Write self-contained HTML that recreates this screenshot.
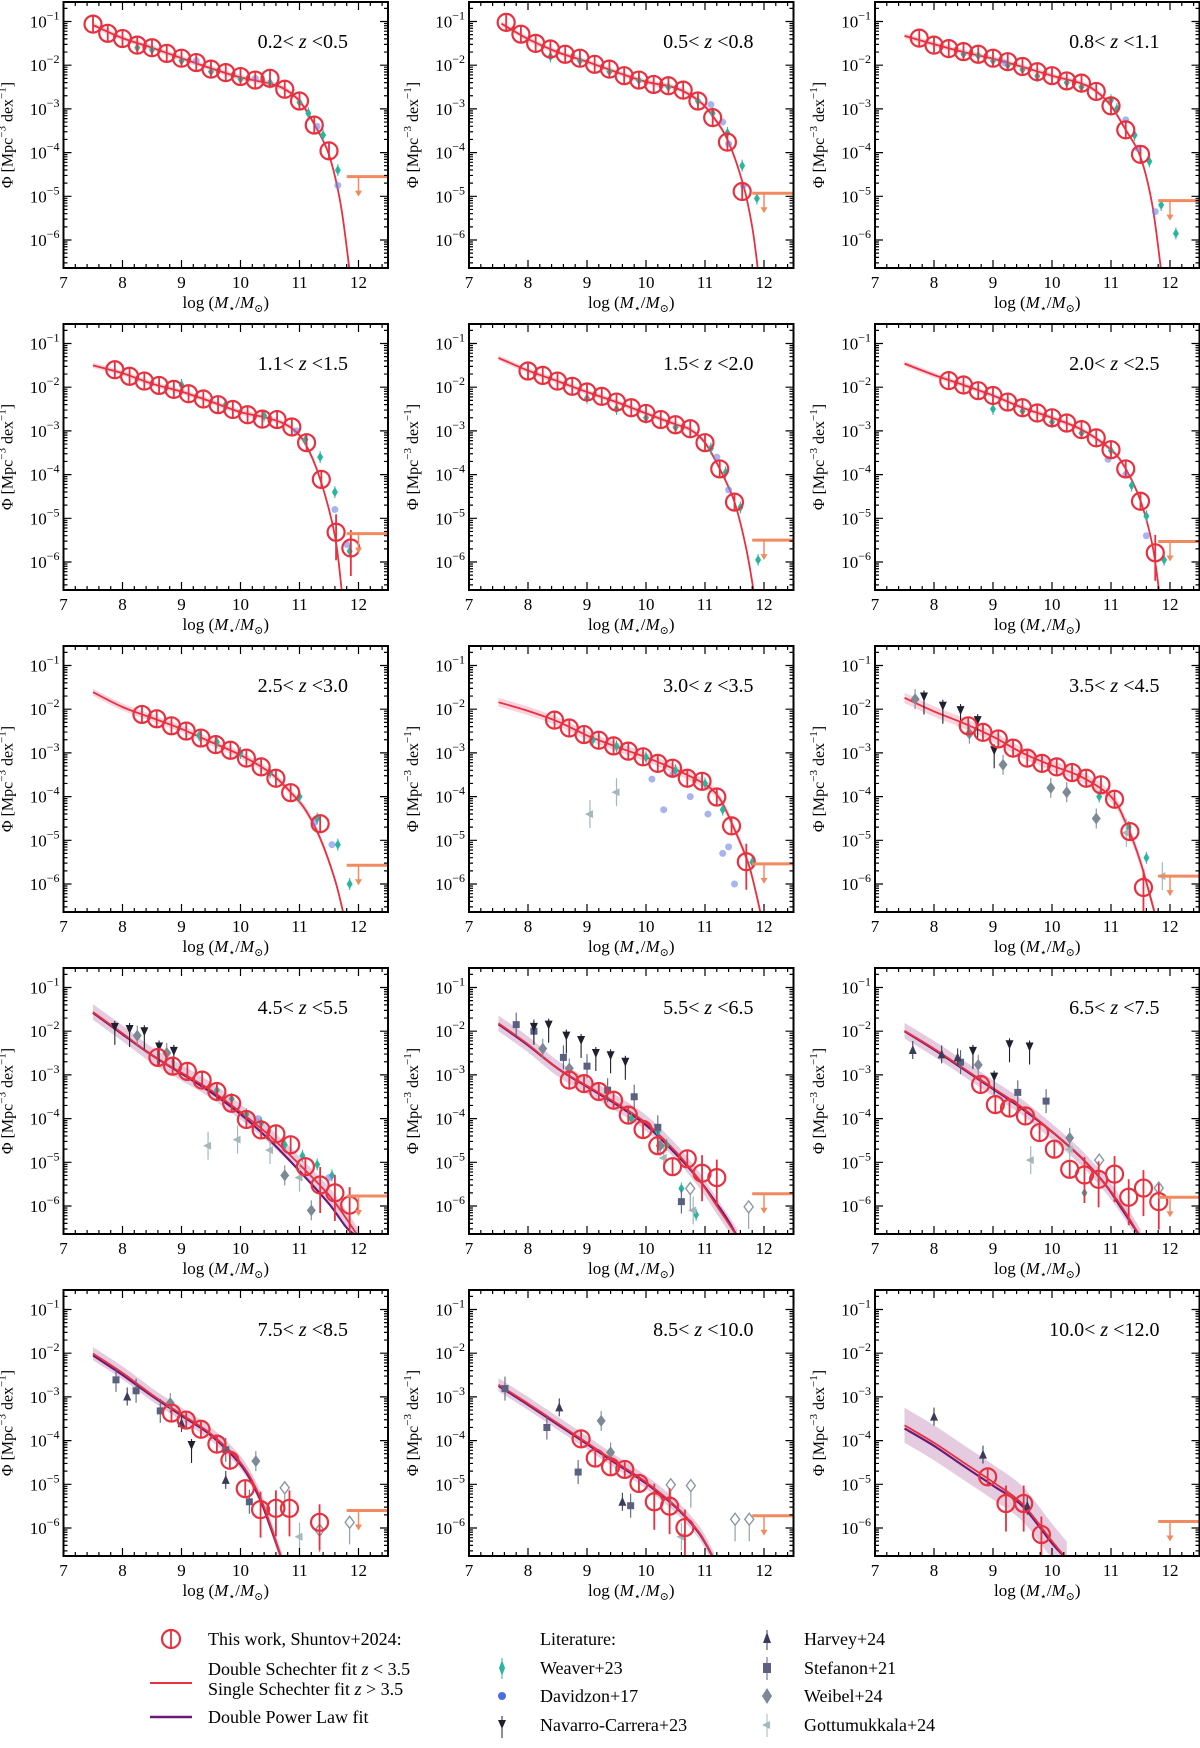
<!DOCTYPE html>
<html><head><meta charset="utf-8">
<style>
html,body{margin:0;padding:0;background:#fff;}
svg{display:block;font-family:"Liberation Serif","DejaVu Serif",serif;}
</style></head>
<body>
<svg id="fig" width="1200" height="1748" viewBox="0 0 1200 1748" xmlns="http://www.w3.org/2000/svg"></svg>
<script>
const zLabels = ["0.2","0.5","0.5","0.8","0.8","1.1","1.1","1.5","1.5","2.0","2.0","2.5","2.5","3.0","3.0","3.5","3.5","4.5","4.5","5.5","5.5","6.5","6.5","7.5","7.5","8.5","8.5","10.0","10.0","12.0"];
const circX = [
 [7.5,7.75,8,8.25,8.5,8.75,9,9.25,9.5,9.75,10,10.25,10.5,10.75,11,11.25,11.5],
 [7.63,7.88,8.13,8.38,8.63,8.88,9.13,9.38,9.63,9.88,10.13,10.38,10.63,10.88,11.13,11.38,11.63],
 [7.75,8,8.25,8.5,8.75,9,9.25,9.5,9.75,10,10.25,10.5,10.75,11,11.25,11.5],
 [7.87,8.12,8.37,8.62,8.87,9.12,9.37,9.62,9.87,10.12,10.37,10.62,10.87,11.12,11.37,11.62,11.87],
 [8,8.25,8.5,8.75,9,9.25,9.5,9.75,10,10.25,10.5,10.75,11,11.25,11.5],
 [8.25,8.5,8.75,9,9.25,9.5,9.75,10,10.25,10.5,10.75,11,11.25,11.5,11.75],
 [8.33,8.58,8.83,9.08,9.33,9.58,9.83,10.1,10.35,10.6,10.85,11.35],
 [8.45,8.7,8.95,9.2,9.45,9.7,9.95,10.2,10.45,10.7,10.95,11.2,11.45,11.7],
 [8.58,8.83,9.09,9.34,9.58,9.83,10.08,10.34,10.58,10.83,11.06,11.32,11.55],
 [8.6,8.85,9.1,9.35,9.6,9.85,10.1,10.35,10.6,10.85,11.1,11.35,11.6,11.85],
 [8.7,8.95,9.2,9.45,9.7,9.95,10.2,10.45,10.7,10.95,11.2],
 [8.79,9.04,9.28,9.55,9.79,10.04,10.3,10.55,10.79,11.06,11.3,11.55,11.81],
 [8.83,9.08,9.33,9.6,9.82,10.08,10.34,10.6,10.83,11.34],
 [8.9,9.14,9.4,9.64,9.88,10.14,10.4,10.66],
 [8.91,9.22,9.52,9.82]
];
const circY = [
 [-1.06,-1.27,-1.39,-1.54,-1.6,-1.73,-1.84,-1.94,-2.09,-2.17,-2.26,-2.34,-2.3,-2.55,-2.82,-3.37,-3.96],
 [-1.02,-1.29,-1.5,-1.63,-1.75,-1.84,-1.98,-2.09,-2.24,-2.34,-2.44,-2.47,-2.57,-2.82,-3.2,-3.76,-4.89],
 [-1.38,-1.54,-1.62,-1.69,-1.75,-1.84,-1.92,-2.03,-2.15,-2.24,-2.36,-2.41,-2.6,-2.93,-3.48,-4.04],
 [-1.6,-1.75,-1.86,-1.96,-2.05,-2.15,-2.27,-2.4,-2.51,-2.63,-2.73,-2.74,-2.91,-3.27,-4.11,-5.32,-5.68],
 [-1.63,-1.73,-1.86,-1.98,-2.11,-2.21,-2.34,-2.47,-2.6,-2.74,-2.86,-2.95,-3.27,-3.87,-4.63],
 [-1.85,-1.95,-2.08,-2.19,-2.34,-2.47,-2.59,-2.7,-2.82,-2.97,-3.16,-3.43,-3.87,-4.61,-5.79],
 [-2.12,-2.22,-2.38,-2.5,-2.66,-2.81,-2.94,-3.12,-3.32,-3.58,-3.91,-4.62],
 [-2.25,-2.43,-2.58,-2.71,-2.84,-2.96,-3.09,-3.24,-3.35,-3.58,-3.65,-4.01,-4.67,-5.49],
 [-2.38,-2.53,-2.68,-2.89,-3.12,-3.24,-3.32,-3.45,-3.58,-3.73,-4.06,-4.8,-6.08],
 [-2.6,-2.8,-2.92,-3.12,-3.38,-3.65,-4.02,-4.26,-4.35,-4.6,-5.1,-5.52,-5.7,-5.98],
 [-3.12,-3.2,-3.38,-3.58,-3.92,-4.25,-4.62,-5.1,-4.92,-5.25,-5.35],
 [-3.22,-3.68,-3.76,-3.94,-4.32,-4.7,-5.16,-5.29,-5.39,-5.27,-5.8,-5.59,-5.9],
 [-3.37,-3.53,-3.74,-4.08,-4.45,-5.1,-5.58,-5.55,-5.55,-5.87],
 [-3.96,-4.4,-4.6,-4.66,-4.98,-5.4,-5.5,-5.99],
 [-4.83,-5.44,-5.44,-6.15]
];
const fitX = [
 [7.5,8,8.5,9,9.5,10,10.5,10.75,11,11.25,11.5,11.7,11.85],
 [7.55,8,8.5,9,9.5,10,10.5,10.9,11.15,11.4,11.65,11.8,11.9],
 [7.5,8,8.5,9,9.5,10,10.5,10.75,11,11.25,11.5,11.7,11.85],
 [7.5,8,8.5,9,9.5,10,10.5,10.85,11.1,11.35,11.6,11.72],
 [7.5,8,8.5,9,9.5,10,10.5,10.75,11,11.25,11.5,11.7,11.83],
 [7.5,8,8.5,9,9.5,10,10.5,11,11.25,11.5,11.7,11.82],
 [7.5,8,8.5,9,9.5,10,10.5,10.85,11.1,11.35,11.6,11.75],
 [7.5,8,8.5,9,9.5,10,10.5,11,11.25,11.5,11.75,11.95],
 [7.5,8,8.5,9,9.5,10,10.5,11,11.25,11.5,11.75],
 [7.5,8,8.5,9,9.5,10,10.5,11,11.5,11.8,12.0],
 [7.5,8,8.5,9,9.5,10,10.5,10.9,11.2,11.4,11.55],
 [7.5,8,8.5,9,9.5,10,10.5,10.9,11.2,11.5],
 [7.5,8,8.5,9,9.5,10,10.3,10.5,10.7],
 [7.5,8,8.5,9,9.5,10,10.5,10.9,11.15],
 [7.5,8,8.5,9,9.5,10,10.25]
];
const fitY = [
 [-1.08,-1.38,-1.6,-1.84,-2.07,-2.28,-2.42,-2.55,-2.82,-3.35,-4.05,-5.2,-6.71],
 [-1.05,-1.4,-1.7,-1.92,-2.16,-2.38,-2.52,-2.82,-3.2,-3.76,-4.75,-5.7,-6.71],
 [-1.33,-1.52,-1.7,-1.85,-2.04,-2.24,-2.42,-2.6,-2.93,-3.48,-4.1,-5.2,-6.71],
 [-1.5,-1.68,-1.92,-2.1,-2.33,-2.57,-2.72,-2.92,-3.3,-4.1,-5.4,-6.71],
 [-1.33,-1.62,-1.86,-2.11,-2.34,-2.6,-2.85,-2.97,-3.27,-3.87,-4.63,-5.7,-6.71],
 [-1.46,-1.72,-1.95,-2.19,-2.47,-2.7,-2.97,-3.43,-3.87,-4.6,-5.6,-6.71],
 [-1.61,-1.95,-2.2,-2.45,-2.75,-3.05,-3.45,-3.9,-4.3,-4.95,-5.9,-6.71],
 [-1.84,-2.04,-2.28,-2.6,-2.86,-3.1,-3.38,-3.72,-4.05,-4.75,-5.6,-6.71],
 [-1.74,-2.05,-2.32,-2.63,-3.0,-3.29,-3.55,-4.0,-4.6,-5.5,-6.71],
 [-1.56,-2.05,-2.55,-2.95,-3.35,-3.85,-4.4,-5.05,-5.75,-6.3,-6.71],
 [-1.82,-2.3,-2.85,-3.25,-3.65,-4.1,-4.75,-5.4,-6.0,-6.4,-6.71],
 [-1.99,-2.4,-2.85,-3.3,-3.75,-4.3,-4.9,-5.5,-6.05,-6.71],
 [-2.01,-2.45,-2.95,-3.4,-3.85,-4.5,-5.2,-5.9,-6.71],
 [-2.72,-3.15,-3.6,-4.05,-4.5,-4.95,-5.5,-6.1,-6.71],
 [-3.65,-4.05,-4.5,-4.95,-5.45,-6.3,-6.71]
];
const dplY = [null,null,null,null,null,null,null,null,null,
 [-1.58,-2.07,-2.55,-2.97,-3.4,-3.9,-4.5,-5.2,-5.95,-6.5,-6.71],
 [-1.84,-2.32,-2.85,-3.27,-3.68,-4.15,-4.8,-5.4,-5.95,-6.35,-6.71],
 [-2.0,-2.42,-2.87,-3.32,-3.78,-4.3,-4.9,-5.5,-6.1,-6.71],
 [-2.05,-2.5,-2.98,-3.43,-3.88,-4.55,-5.25,-5.95,-6.71],
 [-2.75,-3.18,-3.63,-4.08,-4.53,-4.98,-5.52,-6.12,-6.71],
 [-3.72,-4.12,-4.58,-5.03,-5.5,-6.35,-6.71]
];
const bandW = [0.06,0.06,0.06,0.06,0.06,0.06,0.08,0.1,0.12,0.18,0.18,0.18,0.15,0.15,0.4];
const upperLim = [-4.55,-4.93,-5.1,-5.35,-5.5,-5.53,-5.57,-5.54,-5.82,-5.77,-5.72,-5.8,-5.6,-5.72,-5.85];
const teal = [
 [[8.25,-1.6],[8.5,-1.65],[9,-1.9],[9.5,-2.15],[10,-2.32],[10.5,-2.4],[11,-2.85],[11.15,-3.1],[11.4,-3.6],[11.65,-4.4]],
 [[8.38,-1.8],[8.88,-1.9],[9.38,-2.15],[9.88,-2.35],[10.38,-2.5],[10.88,-2.82],[11.13,-3.1],[11.38,-3.55],[11.63,-4.3],[11.88,-5.05]],
 [[8.5,-1.75],[8.75,-1.78],[9,-1.9],[9.25,-2.0],[9.5,-2.1],[9.75,-2.25],[10.25,-2.4],[10.5,-2.5],[11,-2.8],[11.1,-3.0],[11.4,-3.6],[11.65,-4.2],[11.85,-5.2],[12.1,-5.85]],
 [[9,-1.95],[9.75,-2.4],[10.4,-2.65],[11.1,-3.2],[11.35,-3.6],[11.6,-4.4],[11.85,-5.75]],
 [[9,-2.25],[9.5,-2.5],[10,-2.7],[10.5,-2.92],[11.1,-3.4],[11.35,-3.95],[11.6,-4.75],[11.9,-5.95]],
 [[9,-2.5],[9.5,-2.55],[10,-2.8],[10.5,-3.05],[11,-3.45],[11.35,-4.25],[11.6,-4.95],[11.9,-5.95]],
 [[9.3,-2.6],[9.6,-2.75],[10,-3.0],[10.5,-3.45],[11,-4.0],[11.3,-4.5],[11.65,-5.1],[11.85,-6.0]],
 [[9.1,-2.7],[9.5,-2.85],[10,-3.1],[10.5,-3.4],[11,-3.7],[11.3,-4.3],[11.8,-5.5]],
 [[10.8,-4.0],[11.3,-4.7],[11.6,-5.4]],
 [[9.6,-3.35],[9.85,-3.55],[10.1,-3.9],[10.35,-4.1],[10.75,-4.6],[11.05,-4.85],[11.3,-5.05],[11.55,-5.3]],
 [[9.75,-4.0],[10.2,-4.3],[10.35,-4.6],[10.6,-5.6],[10.85,-6.2]],
 [[10.55,-5.7]],[],[],[]
];
const blue = [
 [[9.25,-1.9],[10.25,-2.3],[11.3,-3.4],[11.65,-4.75]],
 [[11.1,-2.9],[11.3,-3.3],[11.4,-3.8],[11.65,-4.75]],
 [[9.2,-1.95],[11.25,-3.25],[11.45,-3.9],[11.75,-5.35]],
 [[10.95,-3.0],[11.6,-4.8],[11.8,-5.6]],
 [[11.2,-3.6],[11.4,-4.35]],
 [[10.95,-3.65],[11.25,-4.0],[11.6,-5.4]],
 [[11.25,-4.6],[11.55,-5.1]],
 [[10.1,-3.6],[10.3,-4.3],[10.45,-3.5],[10.75,-4.0],[11.05,-4.4],[11.3,-5.3],[11.4,-5.15],[11.5,-6.0]],
 [],[[10.3,-4.0],[11.5,-5.35]],[],[],[],[],[]
];
const navarro = [[],[],[],[],[],[],[],[],
 [[7.83,-1.71],[8.15,-1.92],[8.45,-2.02],[8.74,-2.25],[9.02,-2.94]],
 [[7.87,-1.9],[8.12,-1.95],[8.37,-2.0],[8.62,-2.35],[8.87,-2.45]],
 [[8.1,-1.9],[8.35,-1.85],[8.65,-2.1],[8.9,-2.2],[9.15,-2.5],[9.4,-2.55],[9.65,-2.7]],
 [[8.66,-2.45],[9.02,-3.04],[9.28,-2.3],[9.62,-2.35]],
 [[9.17,-4.1]],[],[]
];
const harvey = [[],[],[],[],[],[],[],[],[],[],[],
 [[7.64,-2.43],[8.13,-2.53],[8.4,-2.6]],
 [[8.08,-2.99],[9.0,-3.6],[9.75,-4.9]],
 [[8.53,-3.24],[9.6,-5.4]],
 [[8.0,-3.45],[8.83,-4.32],[9.58,-5.49]]
];
const stefanon = [[],[],[],[],[],[],[],[],[],[],
 [[7.8,-1.85],[8.1,-2.0],[8.6,-2.6],[9.0,-2.8],[9.35,-3.35],[9.8,-3.5],[10.2,-4.2],[10.6,-5.9]],
 [[8.45,-2.71],[9.42,-3.4],[9.9,-3.6]],
 [[7.89,-2.61],[8.23,-2.86],[8.64,-3.32],[9.75,-4.21],[10.15,-5.4]],
 [[7.61,-2.81],[8.32,-3.7],[8.85,-4.72],[9.74,-5.49]],
 []
];
const weibel = [[],[],[],[],[],[],[],[],
 [[7.68,-1.77],[8.6,-2.56],[9.17,-3.27],[9.98,-3.8],[10.25,-3.9],[10.75,-4.5]],
 [[8.25,-2.1],[8.75,-2.5],[10.75,-5.3],[11.2,-6.1]],
 [[8.25,-2.4],[8.7,-2.85],[10.24,-4.62]],
 [[8.75,-2.77],[10.3,-4.44]],
 [[8.81,-3.14],[10.26,-4.47]],
 [[9.24,-3.55],[9.4,-4.27]],
 []
];
const weibelOpen = [[],[],[],[],[],[],[],[],[],[],
 [[10.75,-5.6],[11.74,-6.02]],
 [[10.8,-4.95],[11.81,-5.59]],
 [[10.75,-5.08],[11.85,-5.87],[11.34,-6.05]],
 [[10.42,-5.01],[10.76,-5.03],[11.51,-5.8],[11.75,-5.8]],
 []
];
const gott = [[],[],[],[],[],[],[],
 [[9.05,-4.4],[9.5,-3.9]],
 [[11.26,-4.83],[11.87,-5.82]],
 [[9.45,-4.62],[9.95,-4.48],[10.5,-4.72],[11.0,-5.35]],
 [[10.3,-4.9],[10.8,-6.1]],
 [[9.64,-4.95],[10.3,-4.7]],
 [[11.0,-6.2]],
 [[10.6,-6.2]],
 []
];

const svg = document.getElementById('fig');
const NS = 'http://www.w3.org/2000/svg';
function mk(tag, attrs, parent){const e=document.createElementNS(NS,tag);for(const k in attrs)e.setAttribute(k,attrs[k]);(parent||svg).appendChild(e);return e;}
const colL=[63.5,469,875], rowT=[2,324,646,968,1290];
const PW=324.5, PH=266, XU=59, DEC=43.7, Y1=19.5;
const RED='#e8303e', PURP='#6b1a78';

function smoothPath(pts){
  let d='M'+pts[0][0].toFixed(1)+','+pts[0][1].toFixed(1);
  for(let i=0;i<pts.length-1;i++){
    const p0=pts[Math.max(0,i-1)],p1=pts[i],p2=pts[i+1],p3=pts[Math.min(pts.length-1,i+2)];
    const c1=[p1[0]+(p2[0]-p0[0])/6,p1[1]+(p2[1]-p0[1])/6];
    const c2=[p2[0]-(p3[0]-p1[0])/6,p2[1]-(p3[1]-p1[1])/6];
    d+=' C'+c1[0].toFixed(1)+','+c1[1].toFixed(1)+' '+c2[0].toFixed(1)+','+c2[1].toFixed(1)+' '+p2[0].toFixed(1)+','+p2[1].toFixed(1);
  }
  return d;
}

for(let p=0;p<15;p++){
  const L=colL[p%3], T=rowT[Math.floor(p/3)];
  const X=v=>L+(v-7)*XU;
  const Y=v=>T+Y1+(-1-v)*DEC;
  const g=mk('g',{});
  
  
  const cp=mk('clipPath',{id:'cp'+p},g);
  mk('rect',{x:L,y:T,width:PW,height:PH},cp);
  const plot=mk('g',{'clip-path':'url(#cp'+p+')'},g);
  const up=fitX[p].map((x,i)=>[X(x),Y(fitY[p][i]+bandW[p])]);
  const dn=fitX[p].map((x,i)=>[X(x),Y(fitY[p][i]-bandW[p])]).reverse();
  const bandCol = p>=9 ? 'rgba(160,70,140,0.28)' : 'rgba(240,130,160,0.35)';
  const band=mk('path',{d:smoothPath(up)+' L'+smoothPath(dn).slice(1)+' Z',fill:bandCol,stroke:'none'},plot);
  
  
  if(dplY[p]){
    const dpts=fitX[p].map((x,i)=>[X(x),Y(dplY[p][i])]);
    const dl=mk('path',{d:smoothPath(dpts),fill:'none',stroke:PURP,'stroke-width':2.2},plot);
    
    
  }
  const fpts=fitX[p].map((x,i)=>[X(x),Y(fitY[p][i])]);
  const fl=mk('path',{d:smoothPath(fpts),fill:'none',stroke:RED,'stroke-width':1.8},plot);
  
  
  teal[p].forEach(([x,y])=>{
    mk('line',{x1:X(x),x2:X(x),y1:Y(y)-6,y2:Y(y)+6,stroke:'#2ab5a0','stroke-width':1},plot);
    const m=mk('path',{d:`M${X(x)},${Y(y)-5} L${X(x)+3},${Y(y)} L${X(x)},${Y(y)+5} L${X(x)-3},${Y(y)} Z`,fill:'#2ab5a0'},plot);
    
    
  });
  blue[p].forEach(([x,y])=>{
    const m=mk('circle',{cx:X(x),cy:Y(y),r:3.5,fill:'rgba(110,130,230,0.6)'},plot);
    
    
  });
  gott[p].forEach(([x,y])=>{
    mk('line',{x1:X(x),x2:X(x),y1:Y(y)-14,y2:Y(y)+14,stroke:'#a3b8bb','stroke-width':1.2},plot);
    const m=mk('path',{d:`M${X(x)-5},${Y(y)} L${X(x)+3},${Y(y)-4} L${X(x)+3},${Y(y)+4} Z`,fill:'#a3b8bb'},plot);
    
    
  });
  stefanon[p].forEach(([x,y])=>{
    mk('line',{x1:X(x),x2:X(x),y1:Y(y)-12,y2:Y(y)+12,stroke:'#5c6080','stroke-width':1.1},plot);
    const m=mk('rect',{x:X(x)-3.5,y:Y(y)-3.5,width:7,height:7,fill:'#5c6080'},plot);
    
    
  });
  weibel[p].forEach(([x,y])=>{
    mk('line',{x1:X(x),x2:X(x),y1:Y(y)-10,y2:Y(y)+10,stroke:'#7d8a96','stroke-width':1.1},plot);
    const m=mk('path',{d:`M${X(x)},${Y(y)-6} L${X(x)+4.5},${Y(y)} L${X(x)},${Y(y)+6} L${X(x)-4.5},${Y(y)} Z`,fill:'#7d8a96'},plot);
    
    
  });
  weibelOpen[p].forEach(([x,y])=>{
    mk('line',{x1:X(x),x2:X(x),y1:Y(y)+6,y2:Y(y)+22,stroke:'#8a98a2','stroke-width':1.1},plot);
    const m=mk('path',{d:`M${X(x)},${Y(y)-6} L${X(x)+4.5},${Y(y)} L${X(x)},${Y(y)+6} L${X(x)-4.5},${Y(y)} Z`,fill:'#fff',stroke:'#8a98a2','stroke-width':1.4},plot);
    
    
  });
  navarro[p].forEach(([x,y])=>{
    mk('line',{x1:X(x),x2:X(x),y1:Y(y)-6,y2:Y(y)+18,stroke:'#1f1f2e','stroke-width':1.1},plot);
    const m=mk('path',{d:`M${X(x)-4},${Y(y)-4} L${X(x)+4},${Y(y)-4} L${X(x)},${Y(y)+5} Z`,fill:'#1f1f2e'},plot);
    
    
  });
  harvey[p].forEach(([x,y])=>{
    mk('line',{x1:X(x),x2:X(x),y1:Y(y)-9,y2:Y(y)+9,stroke:'#3b3b5c','stroke-width':1.1},plot);
    const m=mk('path',{d:`M${X(x)-4},${Y(y)+4} L${X(x)+4},${Y(y)+4} L${X(x)},${Y(y)-5} Z`,fill:'#3b3b5c'},plot);
    
    
  });
  circX[p].forEach((x,i)=>{
    const y=circY[p][i];
    const big = y < -5.2;
    mk('line',{x1:X(x),x2:X(x),y1:Y(y)-(big?18:8),y2:Y(y)+(big?28:8),stroke:RED,'stroke-width':1.8},plot);
    const c=mk('circle',{cx:X(x),cy:Y(y),r:8.5,fill:'none',stroke:RED,'stroke-width':2.2},plot);
    
    
  });
  const ul=upperLim[p];
  const ulg=mk('g',{},plot);
  
  
  mk('line',{x1:X(11.8),x2:X(12.5),y1:Y(ul),y2:Y(ul),stroke:'#f28a60','stroke-width':3},ulg);
  mk('line',{x1:X(12),x2:X(12),y1:Y(ul),y2:Y(ul)+18,stroke:'#f28a60','stroke-width':1.5},ulg);
  mk('path',{d:`M${X(12)-3.5},${Y(ul)+14} L${X(12)+3.5},${Y(ul)+14} L${X(12)},${Y(ul)+20} Z`,fill:'#f28a60'},ulg);
  const fr=mk('rect',{x:L,y:T,width:PW,height:PH,fill:'none',stroke:'#000','stroke-width':2},g);
  
  
  let td='';
  for(let v=7;v<=12.5001;v+=0.2){
    const xx=X(v), maj=Math.abs(v-Math.round(v))<0.01, len=maj?8:4;
    td+=`M${xx},${T+PH} v${-len} M${xx},${T} v${len} `;
  }
  for(let e=-7;e<=-1;e++){
    for(let m=1;m<10;m++){
      const lv=e+Math.log10(m); const yy=Y(lv);
      if(yy<T||yy>T+PH) continue;
      const len=m===1?8:4;
      td+=`M${L},${yy} h${len} M${L+PW},${yy} h${-len} `;
    }
  }
  mk('path',{d:td,stroke:'#000','stroke-width':1.2,fill:'none'},g);
  for(let v=7;v<=12;v++){
    const t=mk('text',{x:X(v),y:T+PH+20,'font-size':17,'text-anchor':'middle'},g);
    t.textContent=v;
    
    
  }
  for(let e=-6;e<=-1;e++){
    const t=mk('text',{x:L-4,y:Y(e)+6,'font-size':17,'text-anchor':'end'},g);
    
    
    t.innerHTML='10<tspan dy="-8" font-size="12">'+'\u2212'+(-e)+'</tspan>';
  }
  const xl=mk('text',{x:L+PW/2,y:T+PH+40,'font-size':17,'text-anchor':'middle'},g);
  
  
  xl.innerHTML='log (<tspan font-style="italic">M</tspan><tspan font-size="11" dy="4">\u22c6</tspan><tspan dy="-4">/</tspan><tspan font-style="italic">M</tspan><tspan font-size="11" dy="4">\u2299</tspan><tspan dy="-4">)</tspan>';
  const yl=mk('text',{x:0,y:0,'font-size':16,'text-anchor':'middle',transform:`translate(${L-51},${T+PH/2}) rotate(-90)`},g);
  
  
  yl.innerHTML='\u03a6 [Mpc<tspan dy="-7" font-size="11">\u22123</tspan><tspan dy="7"> dex</tspan><tspan dy="-7" font-size="11">\u22121</tspan><tspan dy="7">]</tspan>';
  const tt=mk('text',{x:L+PW-40,y:T+46,'font-size':20,'text-anchor':'end'},g);
  
  
  tt.innerHTML=zLabels[2*p]+'&lt; <tspan font-style="italic">z</tspan> &lt;'+zLabels[2*p+1];
}

const lg=mk('g',{});


function ltext(x,y,html,name){const t=mk('text',{x:x,y:y+6,'font-size':18},lg);t.innerHTML=html;return t;}
mk('circle',{cx:171,cy:1639,r:9,fill:'none',stroke:RED,'stroke-width':2.2},lg);
mk('line',{x1:171,x2:171,y1:1630,y2:1648,stroke:RED,'stroke-width':1.8},lg);
ltext(208,1639,'This work, Shuntov+2024:','legend-this-work');
mk('line',{x1:150,x2:192,y1:1683,y2:1683,stroke:RED,'stroke-width':2},lg);
ltext(208,1669,'Double Schechter fit <tspan font-style="italic">z</tspan> &lt; 3.5','legend-double-schechter');
ltext(208,1689,'Single Schechter fit <tspan font-style="italic">z</tspan> &gt; 3.5','legend-single-schechter');
mk('line',{x1:150,x2:192,y1:1717,y2:1717,stroke:PURP,'stroke-width':2.5},lg);
ltext(208,1717,'Double Power Law fit','legend-double-power-law');
ltext(540,1639,'Literature:','legend-literature-header');
mk('path',{d:'M502,1660 L505,1668 L502,1676 L499,1668 Z',fill:'#2ab5a0'},lg);
mk('line',{x1:502,x2:502,y1:1658,y2:1679,stroke:'#2ab5a0'},lg);
ltext(540,1668,'Weaver+23','legend-weaver23');
mk('circle',{cx:502,cy:1696,r:4,fill:'#4a6ee0'},lg);
ltext(540,1696,'Davidzon+17','legend-davidzon17');
mk('path',{d:'M498,1720 L506,1720 L502,1729 Z',fill:'#1f1f2e'},lg);
mk('line',{x1:502,x2:502,y1:1716,y2:1738,stroke:'#1f1f2e'},lg);
ltext(540,1725,'Navarro-Carrera+23','legend-navarro-carrera23');
mk('path',{d:'M763,1643 L771,1643 L767,1632 Z',fill:'#3b3b5c'},lg);
mk('line',{x1:767,x2:767,y1:1630,y2:1650,stroke:'#3b3b5c'},lg);
ltext(804,1639,'Harvey+24','legend-harvey24');
mk('rect',{x:763,y:1663,width:8,height:10,fill:'#5c6080'},lg);
mk('line',{x1:767,x2:767,y1:1657,y2:1680,stroke:'#5c6080'},lg);
ltext(804,1668,'Stefanon+21','legend-stefanon21');
mk('path',{d:'M767,1688 L772,1696 L767,1704 L762,1696 Z',fill:'#7d8a96'},lg);
ltext(804,1696,'Weibel+24','legend-weibel24');
mk('path',{d:'M762,1725 L770,1721 L770,1729 Z',fill:'#a3b8bb'},lg);
mk('line',{x1:767,x2:767,y1:1714,y2:1737,stroke:'#a3b8bb'},lg);
ltext(804,1725,'Gottumukkala+24','legend-gottumukkala24');
</script>
</body></html>
